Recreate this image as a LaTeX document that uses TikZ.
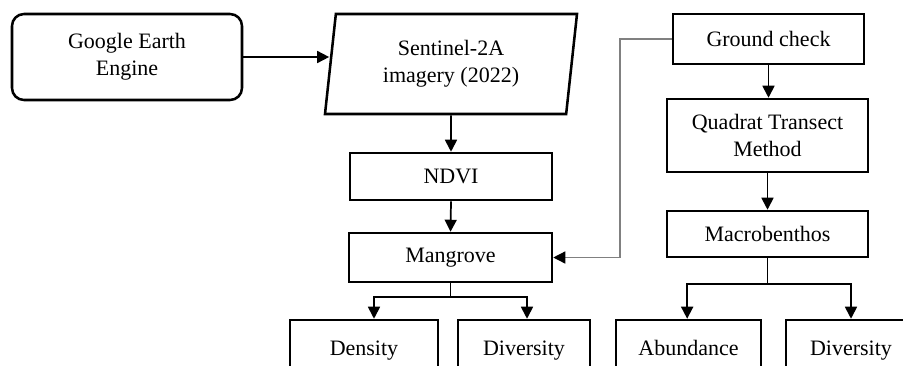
\documentclass[tikz,border=0pt]{standalone}
\usepackage{fontspec}
\setmainfont{Liberation Serif}
\usetikzlibrary{arrows.meta,shapes.geometric}

\begin{document}
\begin{tikzpicture}[x=0.75pt, y=-0.75pt, >={Triangle[length=9pt,width=9pt,color=black]},
	every node/.style={font=\fontsize{16.5}{20.25}\selectfont, align=center, inner sep=0pt},
	box/.style={draw, line width=1.9pt},
	rbox/.style={box, rounded corners=9pt},
	para/.style={box, trapezium, trapezium left angle=77, trapezium right angle=103, trapezium stretches body},
	cell/.style={box, minimum height=45pt, text height=11.5pt, text depth=3.5pt},
	link/.style={->, line width=1.3pt},
	glink/.style={->, line width=1pt, gray}]
	% 1. frame
	\useasboundingbox (0,0) rectangle (903,365);
	\clip (0,0) rectangle (903,365);
	
	% 2. left column
	\node[rbox, minimum width=172.5pt, minimum height=64.5pt] (gee) at (127,57) {Google Earth\\Engine};
	\node[para, minimum width=189pt, minimum height=75pt] (img) at (451,64) {Sentinel-2A\\imagery (2022)};
	\node[box, minimum width=151.5pt, minimum height=35.25pt] (ndvi) at (451,176.5) {NDVI};
	\node[box, minimum width=152.25pt, minimum height=36.75pt] (mang) at (450.5,257.5) {Mangrove};
	\node[cell, minimum width=111pt] (dens) at (364,350) {Density};
	\node[cell, minimum width=99pt] (mdiv) at (524,350) {Diversity};
	
	% 3. right column
	\node[box, minimum width=143.25pt, minimum height=37.5pt] (gc) at (768.5,39) {Ground check};
	\node[box, minimum width=150.75pt, minimum height=54.75pt] (quad) at (767.5,135.5) {Quadrat Transect\\Method};
	\node[box, minimum width=150.75pt, minimum height=34.5pt] (macro) at (767.5,234) {Macrobenthos};
	\node[cell, minimum width=108.75pt] (abun) at (688.5,350) {Abundance};
	\node[cell, minimum width=97.5pt] (bdiv) at (851,350) {Diversity};
	
	% 4. connectors
	\draw[link] (gee.east) -- (gee.east -| img.west);
	\draw[link] (img.south) -- (ndvi.north);
	\draw[link] (ndvi.south) -- (mang.north);
	\draw[link] (mang.south) -- ++(0,14) -| ([xshift=7.5pt]dens.north);
	\draw[link] (mang.south) -- ++(0,14) -| ([xshift=2.25pt]mdiv.north);
	\coordinate (gcbend) at (620,39);
	\draw[glink] (gc.west) -- (gcbend) |- (mang.east);
	\draw[link] (gc.south) -- (gc.south |- quad.north);
	\draw[link] (quad.south) -- (macro.north);
	\draw[link] (macro.south) -- ++(0,26) -| ([xshift=-1pt]abun.north);
	\draw[link] (macro.south) -- ++(0,26) -| (bdiv.north);
\end{tikzpicture}
\end{document}
